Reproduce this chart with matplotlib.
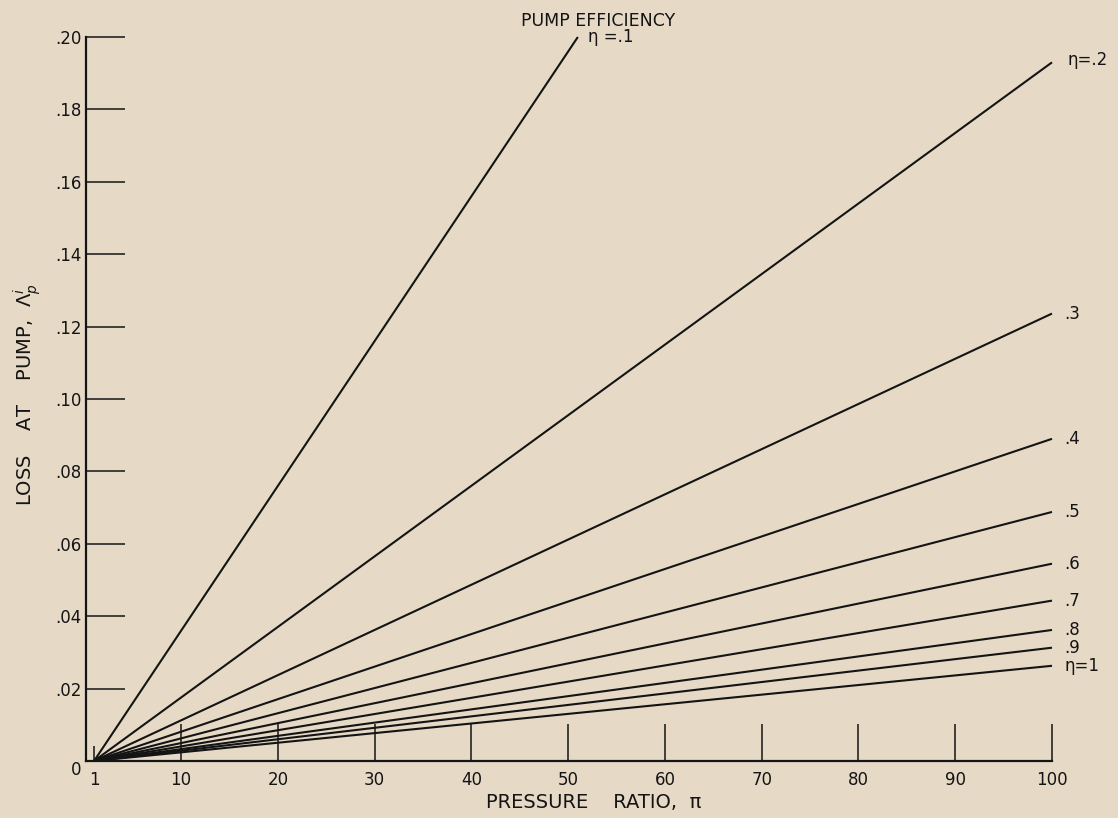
import numpy as np
import matplotlib
matplotlib.use("Agg")
import matplotlib.pyplot as plt

# pump efficiency curves: loss at pump vs pressure ratio, straight lines from pi = 1
eta_labels = ['η =.1', 'η=.2', '.3', '.4', '.5', '.6', '.7', '.8', '.9', 'η=1']
pi_start = 1
pi_end = [51, 100, 100, 100, 100, 100, 100, 100, 100, 100]
loss_end = [0.200, 0.193, 0.1236, 0.089, 0.0688, 0.0545, 0.0443, 0.0362, 0.0313, 0.0263]

x_ticks = [10, 20, 30, 40, 50, 60, 70, 80, 90, 100]
y_ticks = [0, .02, .04, .06, .08, .10, .12, .14, .16, .18, .20]
y_ticklabels = ['0', '.02', '.04', '.06', '.08', '.10', '.12', '.14', '.16', '.18', '.20']

bg = '#e6dac7'
ink = '#141414'

plt.rcParams['font.family'] = ['DejaVu Sans']
fig = plt.figure(figsize=(11.18, 8.18), dpi=100, facecolor=bg)
ax = fig.add_axes([86 / 1118, 1 - 761 / 818, 966 / 1118, 724 / 818])
ax.set_facecolor(bg)

for lab, xe, ye in zip(eta_labels, pi_end, loss_end):
    ax.plot([pi_start, xe], [0, ye], color=ink, lw=1.5, clip_on=False,
            solid_capstyle='butt')
    if lab == 'η =.1':
        off = (7, 0)
    elif lab == 'η=.2':
        off = (11, 2)
    else:
        off = (9, 0)
    ax.annotate(lab, (xe, ye), xytext=off, textcoords='offset points',
                ha='left', va='center', fontsize=12, color=ink,
                annotation_clip=False)

ax.text(598 / 1118, 1 - 21 / 818, 'PUMP EFFICIENCY', transform=fig.transFigure,
        ha='center', va='center', fontsize=12.5, color=ink)

ax.set_xlim(0.17, 100)
ax.set_ylim(0, 0.20)

ax.spines['top'].set_visible(False)
ax.spines['right'].set_visible(False)
ax.spines['left'].set_linewidth(1.6)
ax.spines['bottom'].set_linewidth(1.6)
ax.spines['left'].set_color(ink)
ax.spines['bottom'].set_color(ink)

ax.set_xticks(x_ticks)
ax.set_xticks([1], minor=True)
ax.set_xticklabels([str(v) for v in x_ticks])
ax.set_xticklabels(['1'], minor=True)
ax.set_yticks(y_ticks)
ax.set_yticklabels(y_ticklabels)

ax.tick_params(axis='x', which='major', direction='in', length=26.6, width=1.1,
               pad=7, labelsize=12, colors=ink)
ax.tick_params(axis='x', which='minor', direction='in', length=10.8, width=1.1,
               pad=7, labelsize=12, colors=ink)
ax.tick_params(axis='y', direction='in', length=28, width=1.1, pad=3,
               labelsize=12, colors=ink)
ax.get_yticklabels()[0].set_va('top')

ax.set_xlabel('PRESSURE    RATIO,  π', fontsize=14, color=ink)
ax.xaxis.set_label_coords((594 - 86) / 966, -(803 - 761) / 724)
ax.xaxis.label.set_va('center')
ax.set_ylabel('LOSS    AT    PUMP,  $\\Lambda_{p}^{i}$', fontsize=14, color=ink)
ax.yaxis.set_label_coords((27 - 86) / 966, (761 - 395) / 724)
ax.yaxis.label.set_va('center')

fig.savefig('out.png', dpi=100, facecolor=bg)
